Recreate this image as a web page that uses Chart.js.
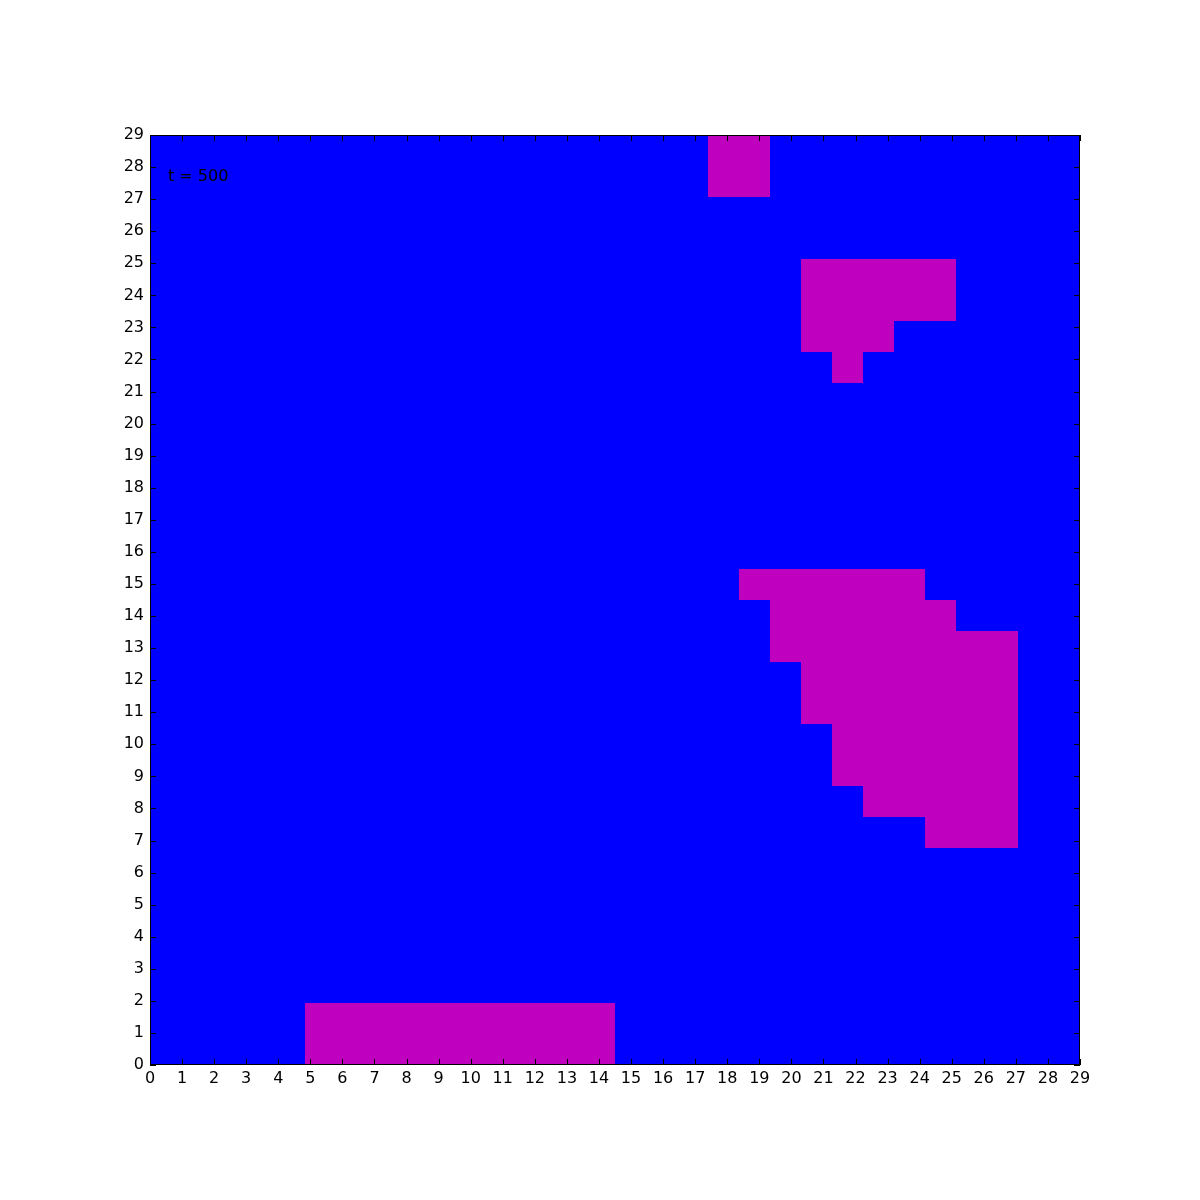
<!DOCTYPE html>
<html>
<head>
<meta charset="utf-8">
<script src="https://cdn.jsdelivr.net/npm/chart.js@4/dist/chart.umd.min.js"></script>
<style>
  html, body { margin: 0; padding: 0; background: #ffffff; }
  #wrap { width: 1200px; height: 1200px; }
</style>
</head>
<body>
<div id="wrap"><canvas id="c" width="1200" height="1200"></canvas></div>
<script>
// ---- data ----
const nCells = 30;                 // grid is 30 x 30
const axisMax = 29;                // axis runs 0..29
const tickValues = Array.from({length: 30}, (_, i) => i);
const stateLabel = "t = 500";
const stateColors = ["#0000ff", "#bf00bf"];   // 0 = blue, 1 = magenta
// magenta runs: row (from bottom), first column, last column
const runRow   = [0, 1, 7, 8, 9, 10, 11, 12, 13, 14, 15, 22, 23, 24, 25, 28, 29];
const runStart = [5, 5, 25, 23, 22, 22, 21, 21, 20, 20, 19, 22, 21, 21, 21, 18, 18];
const runEnd   = [14, 14, 27, 27, 27, 27, 27, 27, 27, 25, 24, 22, 23, 25, 25, 19, 19];

// build grid values
const grid = [];
for (let r = 0; r < nCells; r++) grid.push(new Array(nCells).fill(0));
for (let k = 0; k < runRow.length; k++) {
  for (let c = runStart[k]; c <= runEnd[k]; c++) grid[runRow[k]][c] = 1;
}
const cellSize = axisMax / nCells;
const cellData = [];
for (let r = 0; r < nCells; r++) {
  for (let c = 0; c < nCells; c++) {
    cellData.push({x: (c + 0.5) * cellSize, y: (r + 0.5) * cellSize, c: c, r: r, v: grid[r][c]});
  }
}

const FONT = "DejaVu Sans";
const FSIZE = 16;

const cellPlugin = {
  id: 'cells',
  beforeDatasetsDraw(chart) {
    const ctx = chart.ctx;
    const xs = chart.scales.x, ys = chart.scales.y;
    ctx.save();
    chart.data.datasets[0].data.forEach(p => {
      const x0 = Math.round(xs.getPixelForValue(p.c * cellSize));
      const x1 = Math.round(xs.getPixelForValue((p.c + 1) * cellSize));
      const y0 = Math.round(ys.getPixelForValue((p.r + 1) * cellSize));
      const y1 = Math.round(ys.getPixelForValue(p.r * cellSize));
      ctx.fillStyle = stateColors[p.v];
      ctx.fillRect(x0, y0, x1 - x0, y1 - y0);
    });
    ctx.restore();
  },
  afterDraw(chart) {
    const ctx = chart.ctx;
    const a = chart.chartArea;
    const xs = chart.scales.x, ys = chart.scales.y;
    ctx.save();
    ctx.strokeStyle = '#000';
    ctx.lineWidth = 1;
    ctx.beginPath();
    const L = 6;
    tickValues.forEach(v => {
      const x = Math.round(xs.getPixelForValue(v)) + 0.5;
      ctx.moveTo(x, a.bottom); ctx.lineTo(x, a.bottom - L);
      ctx.moveTo(x, a.top); ctx.lineTo(x, a.top + L);
      const y = Math.round(ys.getPixelForValue(v)) + 0.5;
      ctx.moveTo(a.left, y); ctx.lineTo(a.left + L, y);
      ctx.moveTo(a.right, y); ctx.lineTo(a.right - L, y);
    });
    ctx.stroke();
    ctx.strokeRect(Math.round(a.left) + 0.5, Math.round(a.top) + 0.5,
                   Math.round(a.right - a.left) - 1, Math.round(a.bottom - a.top) - 1);
    ctx.fillStyle = '#000';
    ctx.font = FSIZE + 'px "' + FONT + '"';
    ctx.textAlign = 'left';
    ctx.textBaseline = 'middle';
    ctx.fillText(stateLabel, a.left + 18, a.top + 42);
    ctx.restore();
  }
};

new Chart(document.getElementById('c'), {
  type: 'scatter',
  data: {
    datasets: [{ data: cellData, pointRadius: 0, pointHoverRadius: 0 }]
  },
  options: {
    responsive: false,
    animation: false,
    events: [],
    layout: { padding: { left: 0, top: 135, right: 120, bottom: 0 } },
    plugins: { legend: { display: false }, tooltip: { enabled: false } },
    scales: {
      x: {
        type: 'linear', min: 0, max: axisMax,
        afterFit(s) { s.height = 135; },
        afterBuildTicks(s) { s.ticks = tickValues.map(v => ({value: v})); },
        grid: { display: false, drawTicks: false },
        border: { display: false },
        ticks: { autoSkip: false, maxRotation: 0, padding: 4, color: '#000',
                 font: { family: FONT, size: FSIZE } }
      },
      y: {
        type: 'linear', min: 0, max: axisMax,
        afterFit(s) { s.width = 150; },
        afterBuildTicks(s) { s.ticks = tickValues.map(v => ({value: v})); },
        grid: { display: false, drawTicks: false },
        border: { display: false },
        ticks: { autoSkip: false, padding: 6, color: '#000',
                 font: { family: FONT, size: FSIZE } }
      }
    }
  },
  plugins: [cellPlugin]
});
</script>
</body>
</html>
